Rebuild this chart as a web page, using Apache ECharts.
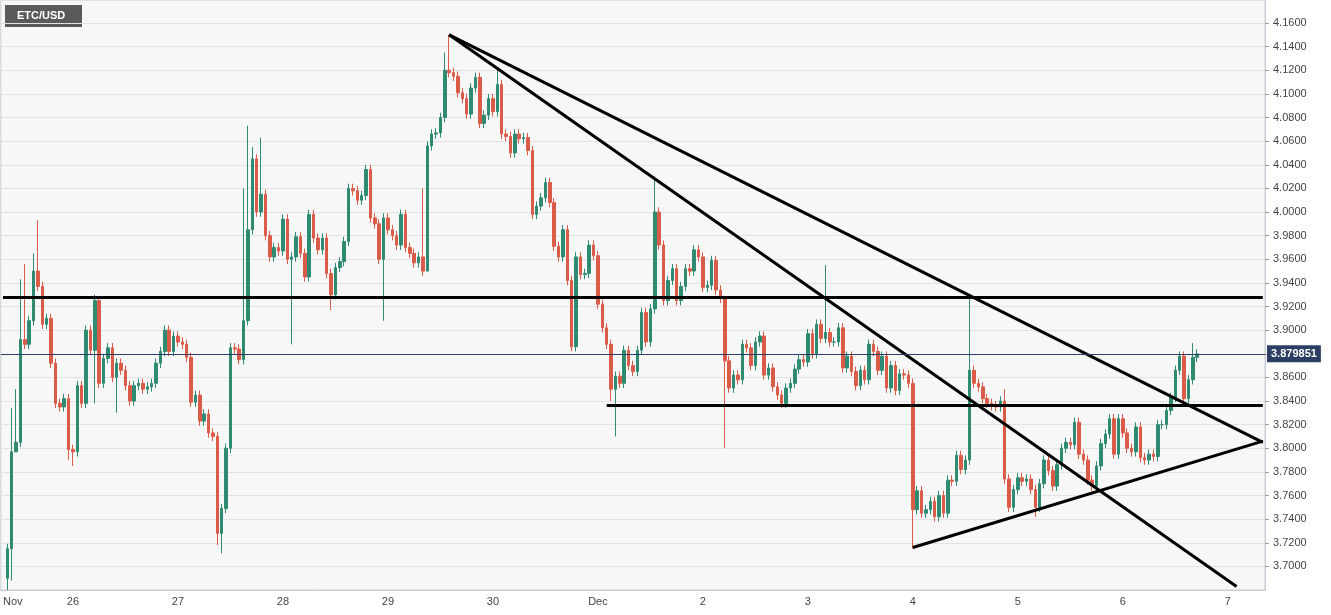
<!DOCTYPE html>
<html>
<head>
<meta charset="utf-8">
<script src="https://cdn.jsdelivr.net/npm/echarts@6/dist/echarts.min.js"></script>
<style>
  html, body { margin: 0; padding: 0; background: #fff; }
  #chart { width: 1331px; height: 615px; }
</style>
</head>
<body>
<div id="chart"></div>
<script>
// hourly closes, ETC/USD, from Nov 25 09:00
const closes = [
  // Nov 25
  3.715, 3.797, 3.805, 3.892, 3.888, 3.908, 3.950, 3.937, 3.905, 3.910, 3.872, 3.838, 3.835, 3.842, 3.799,
  // Nov 26
  3.797, 3.853, 3.838, 3.900, 3.883, 3.925, 3.855, 3.876, 3.885, 3.860, 3.872, 3.866, 3.853, 3.840, 3.853, 3.855,
  3.850, 3.852, 3.855, 3.872, 3.882, 3.900, 3.882, 3.895,
  // Nov 27
  3.890, 3.888, 3.877, 3.839, 3.845, 3.823, 3.829, 3.813, 3.810, 3.728, 3.749, 3.800, 3.885, 3.884, 3.875, 3.908,
  3.985, 4.045, 4.000, 4.015, 3.980, 3.962, 3.970, 3.967,
  // Nov 28
  3.994, 3.960, 3.962, 3.979, 3.965, 3.945, 3.998, 3.978, 3.968, 3.978, 3.948, 3.930, 3.953, 3.958, 3.975, 4.020,
  4.018, 4.010, 4.014, 4.036, 3.995, 3.990, 3.960, 3.995,
  // Nov 29
  3.985, 3.980, 3.972, 3.998, 3.970, 3.965, 3.957, 3.962, 3.950, 4.056, 4.066, 4.067, 4.080, 4.120, 4.118, 4.115,
  4.101, 4.096, 4.083, 4.105, 4.114, 4.075, 4.082, 4.096,
  // Nov 30
  4.085, 4.108, 4.066, 4.064, 4.050, 4.066, 4.062, 4.063, 4.052, 3.998, 4.005, 4.012, 4.025, 4.008, 3.971, 3.962,
  3.985, 3.942, 3.886, 3.962, 3.947, 3.948, 3.972, 3.963,
  // Dec 1
  3.922, 3.902, 3.888, 3.850, 3.861, 3.855, 3.883, 3.870, 3.865, 3.883, 3.915, 3.890, 3.918, 4.000, 3.972, 3.925,
  3.942, 3.952, 3.925, 3.937, 3.952, 3.950, 3.968, 3.962,
  // Dec 2
  3.936, 3.938, 3.959, 3.934, 3.927, 3.874, 3.851, 3.862, 3.858, 3.888, 3.885, 3.870, 3.890, 3.895, 3.862, 3.868,
  3.852, 3.845, 3.838, 3.851, 3.855, 3.867, 3.875, 3.873,
  // Dec 3
  3.897, 3.880, 3.905, 3.893, 3.898, 3.890, 3.890, 3.902, 3.868, 3.878, 3.865, 3.853, 3.866, 3.858, 3.888, 3.882,
  3.866, 3.878, 3.851, 3.870, 3.849, 3.863, 3.862, 3.855,
  // Dec 4
  3.748, 3.764, 3.745, 3.748, 3.755, 3.742, 3.760, 3.745, 3.773, 3.772, 3.794, 3.782, 3.790, 3.866, 3.855, 3.852,
  3.842, 3.838, 3.836, 3.835, 3.840, 3.774, 3.750, 3.765,
  // Dec 5
  3.775, 3.772, 3.774, 3.765, 3.750, 3.770, 3.790, 3.781, 3.768, 3.786, 3.800, 3.805, 3.803, 3.822, 3.795, 3.790,
  3.773, 3.768, 3.785, 3.804, 3.812, 3.825, 3.795, 3.825,
  // Dec 6
  3.813, 3.800, 3.797, 3.818, 3.792, 3.790, 3.795, 3.793, 3.820, 3.820, 3.832, 3.843, 3.866, 3.878, 3.842, 3.858,
  3.877, 3.8799
];
const firstOpen = 3.690;
// notable wicks: candle index -> value
const highs = { 1: 3.834, 2: 3.850, 3: 3.943, 4: 3.956, 6: 3.965, 7: 3.993, 20: 3.930, 54: 4.020, 55: 4.073,
  56: 4.055, 58: 4.063, 95: 4.020, 100: 4.135, 101: 4.150, 112: 4.120, 148: 4.030, 164: 3.927, 187: 3.955,
  220: 3.928, 228: 3.850, 271: 3.889 };
const lows = { 0: 3.680, 1: 3.688, 2: 3.810, 14: 3.790, 15: 3.785, 20: 3.838, 25: 3.830, 48: 3.718, 49: 3.711,
  65: 3.888, 74: 3.917, 86: 3.908, 96: 4.020, 138: 3.840, 139: 3.810, 164: 3.800, 207: 3.715, 235: 3.742 };
const wick = 0.004;
const lastPrice = 3.879851;
const resistance = 3.928, support = 3.836;
const yTicks = { min: 3.68, max: 4.1795, step: 0.02 };
const totalSlots = 289;             // slot 0 = Nov 25 08:00, one per hour
const monthNames = ['Nov', 'Dec'];

const start = Date.UTC(2024, 10, 25, 8);
const cats = [], dayLabel = {};
for (let k = 0; k < totalSlots; k++) {
  const d = new Date(start + k * 3600e3);
  cats.push(String(k));
  if (k === 0) dayLabel[k] = 'Nov';
  else if (d.getUTCHours() === 0) dayLabel[k] = d.getUTCDate() === 1 ? monthNames[d.getUTCMonth() - 10] : String(d.getUTCDate());
}
const ohlc = new Array(totalSlots).fill('-');
closes.forEach((c, j) => {
  const o = j === 0 ? firstOpen : closes[j - 1];
  const hi = highs[j] !== undefined ? highs[j] : Math.max(o, c) + wick;
  const lo = lows[j] !== undefined ? lows[j] : Math.min(o, c) - wick;
  ohlc[j + 1] = [o, c, lo, hi];
});
const slotOf = j => j + 1;

const chart = echarts.init(document.getElementById('chart'));
chart.setOption({
  animation: false,
  backgroundColor: '#ffffff',
  grid: { left: 0, right: 66, top: 0, bottom: 25, show: true, backgroundColor: '#f7f7f7', borderColor: '#c8ccd6' },
  graphic: [
    { type: 'rect', left: 5, top: 5, shape: { width: 77, height: 22 }, style: { fill: '#5a5a5a' } },
    { type: 'text', left: 17, top: 10, style: { text: 'ETC/USD', fill: '#fff', font: 'bold 11px Arial, "Liberation Sans"' } }
  ],
  xAxis: {
    type: 'category', data: cats, boundaryGap: true,
    axisLine: { lineStyle: { color: '#c8ccd6' } },
    axisTick: { alignWithLabel: true, interval: (i) => dayLabel[i] !== undefined && i > 0, lineStyle: { color: '#999' } },
    axisLabel: { interval: (i) => dayLabel[i] !== undefined, formatter: (v) => dayLabel[+v] || '',
      color: '#444', fontSize: 11, fontFamily: 'Arial, "Liberation Sans"', alignMinLabel: 'left', margin: 6 },
    splitLine: { show: false }
  },
  yAxis: {
    type: 'value', position: 'right', scale: true,
    min: yTicks.min, max: yTicks.max, interval: yTicks.step,
    axisLine: { show: true, lineStyle: { color: '#c8ccd6' } },
    axisTick: { show: true, length: 4, lineStyle: { color: '#999' } },
    axisLabel: { showMinLabel: false, showMaxLabel: false, color: '#444', fontSize: 11,
      fontFamily: 'Arial, "Liberation Sans"', formatter: v => v.toFixed(4), margin: 8 },
    splitLine: { lineStyle: { color: '#e2e2e2' } }
  },
  series: [{
    type: 'candlestick', data: ohlc, barWidth: 3,
    itemStyle: { color: '#2f8a72', color0: '#db5b49', borderColor: '#2f8a72', borderColor0: '#db5b49', borderWidth: 1 },
    markLine: {
      symbol: 'none', silent: true, animation: false,
      data: [
        [{ coord: [0, resistance] }, { coord: [totalSlots - 1, resistance] }],
        [{ coord: [slotOf(137), support] }, { coord: [totalSlots - 1, support] }],
        [{ coord: [slotOf(101), 4.150] }, { coord: [totalSlots - 1, 3.805] }],
        [{ coord: [slotOf(101), 4.150] }, { coord: [282, 3.683] }],
        [{ coord: [slotOf(207), 3.716] }, { coord: [totalSlots - 1, 3.806] }]
      ].map(d => { d[0].lineStyle = { color: '#000', width: 3, type: 'solid' }; d[0].label = { show: false }; return d; })
       .concat([{ yAxis: lastPrice, lineStyle: { color: '#2c3e63', width: 1, type: 'solid' },
         label: { show: true, position: 'end', formatter: lastPrice.toFixed(6), color: '#fff',
           backgroundColor: '#2c3e63', padding: [3, 4], fontSize: 11, fontWeight: 'bold',
           fontFamily: 'Arial, "Liberation Sans"', distance: 2 } }])
    }
  }]
});
</script>
</body>
</html>
